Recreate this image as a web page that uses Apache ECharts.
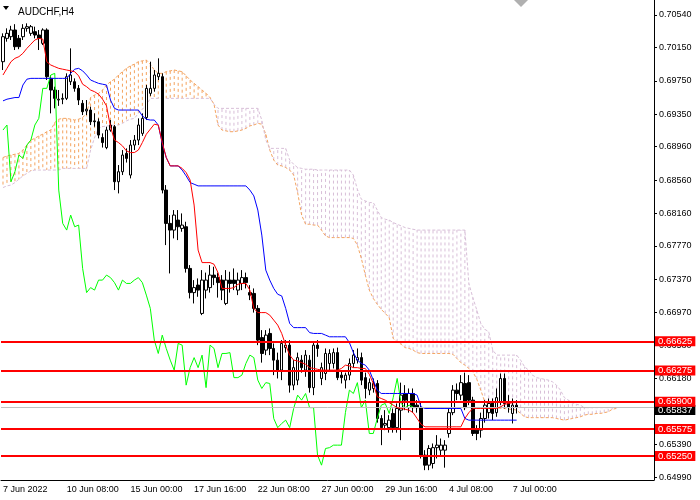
<!DOCTYPE html>
<html>
<head>
<meta charset="utf-8">
<script src="https://cdn.jsdelivr.net/npm/echarts@6/dist/echarts.min.js"></script>
<style>
html, body { margin: 0; padding: 0; background: #fff; }
#main { width: 700px; height: 500px; }
</style>
</head>
<body>
<div id="main"></div>
<script>
// AUDCHF H4 with Ichimoku
var symbolName = 'AUDCHF,H4';
var timeLabels = ['7 Jun 2022', '10 Jun 08:00', '15 Jun 00:00', '17 Jun 16:00', '22 Jun 08:00',
  '27 Jun 00:00', '29 Jun 16:00', '4 Jul 08:00', '7 Jul 00:00'];
var priceTicks = [0.64990, 0.65390, 0.65780, 0.66180, 0.66580, 0.66970, 0.67370, 0.67770,
  0.68160, 0.68560, 0.68960, 0.69350, 0.69750, 0.70150, 0.70540];
var levels = [0.66625, 0.66275, 0.65900, 0.65575, 0.65250];
var lastPrice = 0.65837;

var open = [0.6998,0.7026,0.7028,0.7036,0.7026,0.7028,0.7038,0.7032,0.7034,0.7030,
  0.7020,0.7036,0.6978,0.6964,0.6952,0.6953,0.6954,0.6974,0.6974,0.6966,
  0.6948,0.6939,0.6940,0.6927,0.6926,0.6907,0.6895,0.6916,0.6920,0.6854,
  0.6866,0.6888,0.6862,0.6898,0.6904,0.6912,0.6931,0.6960,0.6966,0.6980,
  0.6980,0.6844,0.6804,0.6796,0.6808,0.6798,0.6800,0.6750,0.6721,0.6730,
  0.6696,0.6724,0.6727,0.6742,0.6739,0.6736,0.6708,0.6736,0.6736,0.6724,
  0.6732,0.6739,0.6721,0.6720,0.6702,0.6667,0.6652,0.6672,0.6654,0.6640,
  0.6628,0.6655,0.6658,0.6610,0.6616,0.6640,0.6628,0.6640,0.6607,0.6658,
  0.6618,0.6624,0.6636,0.6636,0.6649,0.6622,0.6616,0.6622,0.6636,0.6640,
  0.6643,0.6619,0.6604,0.6606,0.6612,0.6570,0.6562,0.6559,0.6576,0.6559,
  0.6580,0.6600,0.6583,0.6600,0.6586,0.6583,0.6526,0.6514,0.6516,0.6535,
  0.6532,0.6532,0.6552,0.6577,0.6604,0.6598,0.6612,0.6613,0.6592,0.6556,
  0.6556,0.6570,0.6577,0.6590,0.6577,0.6590,0.6618,0.6590,0.6576,0.6586];
var close = [0.7028,0.7032,0.7036,0.7016,0.7016,0.7038,0.7040,0.7040,0.7030,0.7026,
  0.7036,0.6980,0.6964,0.6954,0.6953,0.6954,0.6980,0.6982,0.6966,0.6952,
  0.6938,0.6941,0.6926,0.6926,0.6910,0.6901,0.6916,0.6922,0.6854,0.6866,
  0.6886,0.6882,0.6898,0.6904,0.6922,0.6930,0.6966,0.6966,0.6982,0.6984,
  0.6844,0.6804,0.6796,0.6814,0.6800,0.6802,0.6750,0.6721,0.6727,0.6724,
  0.6736,0.6736,0.6742,0.6739,0.6733,0.6724,0.6736,0.6732,0.6732,0.6736,
  0.6739,0.6733,0.6718,0.6702,0.6664,0.6648,0.6670,0.6654,0.6640,0.6628,
  0.6660,0.6658,0.6610,0.6631,0.6643,0.6631,0.6646,0.6607,0.6658,0.6654,
  0.6631,0.6648,0.6648,0.6649,0.6619,0.6619,0.6622,0.6636,0.6646,0.6643,
  0.6616,0.6606,0.6613,0.6612,0.6570,0.6559,0.6564,0.6568,0.6559,0.6582,
  0.6598,0.6592,0.6600,0.6583,0.6583,0.6526,0.6514,0.6534,0.6535,0.6538,
  0.6538,0.6538,0.6577,0.6604,0.6600,0.6613,0.6583,0.6592,0.6552,0.6552,
  0.6570,0.6586,0.6588,0.6576,0.6595,0.6618,0.6588,0.6583,0.6586,0.65837];
var high = [0.7032,0.7038,0.7041,0.7043,0.7030,0.7043,0.7044,0.7042,0.7040,0.7036,
  0.7038,0.7038,0.6982,0.6968,0.6964,0.6960,0.6984,0.7014,0.6978,0.6970,
  0.6952,0.6952,0.6944,0.6936,0.6930,0.6912,0.6920,0.6928,0.6922,0.6874,
  0.6892,0.6894,0.6904,0.6910,0.6930,0.6936,0.6970,0.6998,0.6988,0.7002,
  0.6984,0.6850,0.6814,0.6820,0.6820,0.6816,0.6806,0.6754,0.6736,0.6738,
  0.6748,0.6745,0.6754,0.6752,0.6745,0.6742,0.6748,0.6746,0.6750,0.6745,
  0.6748,0.6745,0.6730,0.6726,0.6706,0.6676,0.6676,0.6678,0.6660,0.6649,
  0.6664,0.6664,0.6664,0.6640,0.6649,0.6646,0.6652,0.6646,0.6661,0.6664,
  0.6637,0.6654,0.6653,0.6654,0.6655,0.6628,0.6625,0.6642,0.6652,0.6654,
  0.6649,0.6625,0.6618,0.6618,0.6616,0.6574,0.6580,0.6574,0.6582,0.6588,
  0.6613,0.6610,0.6606,0.6606,0.6592,0.6590,0.6532,0.6538,0.6540,0.6550,
  0.6546,0.6544,0.6582,0.6610,0.6612,0.6622,0.6625,0.6622,0.6596,0.6562,
  0.6577,0.6592,0.6594,0.6594,0.6606,0.6624,0.6624,0.6598,0.6594,0.6592];
var low = [0.6988,0.7022,0.7024,0.7012,0.7013,0.7024,0.7034,0.7029,0.7026,0.7012,
  0.7018,0.6976,0.6936,0.6942,0.6945,0.6947,0.6952,0.6970,0.6962,0.6946,
  0.6934,0.6934,0.6922,0.6920,0.6906,0.6895,0.6893,0.6914,0.6844,0.6840,
  0.6862,0.6877,0.6858,0.6892,0.6898,0.6909,0.6928,0.6957,0.6962,0.6976,
  0.6840,0.6778,0.6744,0.6786,0.6784,0.6794,0.6745,0.6714,0.6708,0.6716,
  0.6694,0.6714,0.6721,0.6730,0.6715,0.6712,0.6706,0.6721,0.6724,0.6718,
  0.6724,0.6726,0.6712,0.6697,0.6658,0.6637,0.6646,0.6646,0.6622,0.6618,
  0.6616,0.6649,0.6601,0.6604,0.6610,0.6625,0.6620,0.6601,0.6598,0.6644,
  0.6610,0.6616,0.6628,0.6630,0.6616,0.6612,0.6606,0.6616,0.6631,0.6636,
  0.6610,0.6594,0.6598,0.6601,0.6565,0.6538,0.6556,0.6553,0.6553,0.6553,
  0.6544,0.6580,0.6577,0.6577,0.6577,0.6522,0.6508,0.6508,0.6510,0.6522,
  0.6526,0.6511,0.6547,0.6574,0.6592,0.6592,0.6580,0.6586,0.6549,0.6544,
  0.6547,0.6565,0.6570,0.6568,0.6572,0.6586,0.6582,0.6577,0.6564,0.6576];

var tenkan = [0.6982,0.6990,0.6998,0.7002,0.7004,0.7008,0.7014,0.7019,0.7024,0.7026,
  0.7025,0.6998,0.6994,0.6992,0.6990,0.6989,0.6988,0.6987,0.6986,0.6981,
  0.6971,0.6968,0.6964,0.6962,0.6959,0.6953,0.6945,0.6920,0.6904,0.6901,
  0.6897,0.6891,0.6889,0.6889,0.6892,0.6901,0.6911,0.6917,0.6923,0.6922,
  0.6901,0.6883,0.6873,0.6873,0.6873,0.6870,0.6865,0.6856,0.6826,0.6772,
  0.6757,0.6757,0.6757,0.6755,0.6745,0.6726,0.6726,0.6726,0.6727,0.6731,
  0.6732,0.6732,0.6724,0.6702,0.6697,0.6697,0.6697,0.6694,0.6688,0.6682,
  0.6672,0.6658,0.6646,0.6640,0.6639,0.6637,0.6635,0.6631,0.6630,0.6629,
  0.6628,0.6628,0.6628,0.6628,0.6628,0.6630,0.6634,0.6633,0.6631,0.6631,
  0.6630,0.6630,0.6623,0.6612,0.6596,0.6594,0.6592,0.6589,0.6586,0.6583,
  0.6582,0.6581,0.6580,0.6577,0.6570,0.6563,0.6560,0.6560,0.6560,0.6560,
  0.6560,0.6560,0.6560,0.6560,0.6560,0.6560,0.6570,0.6577,0.6582,0.6582,
  0.6582,0.6582,0.6582,0.6582,0.6582,0.6584,0.6587,0.6588,0.6589,0.6589];
var kijun = [0.6951,0.6953,0.6954,0.6955,0.6955,0.6970,0.6977,0.6978,0.6978,0.6978,
  0.6978,0.6978,0.6978,0.6978,0.6978,0.6978,0.6978,0.6984,0.6989,0.6990,
  0.6987,0.6982,0.6976,0.6974,0.6972,0.6971,0.6970,0.6952,0.6942,0.6940,
  0.6940,0.6940,0.6940,0.6940,0.6940,0.6933,0.6929,0.6928,0.6928,0.6922,
  0.6900,0.6883,0.6873,0.6873,0.6873,0.6868,0.6861,0.6853,0.6851,0.6849,
  0.6849,0.6849,0.6849,0.6849,0.6849,0.6849,0.6849,0.6849,0.6849,0.6849,
  0.6849,0.6849,0.6844,0.6837,0.6820,0.6790,0.6748,0.6736,0.6726,0.6719,
  0.6717,0.6702,0.6684,0.6679,0.6679,0.6679,0.6679,0.6673,0.6672,0.6672,
  0.6672,0.6670,0.6668,0.6668,0.6668,0.6668,0.6668,0.6661,0.6649,0.6640,
  0.6636,0.6634,0.6628,0.6616,0.6604,0.6600,0.6600,0.6600,0.6600,0.6600,
  0.6600,0.6600,0.6600,0.6600,0.6598,0.6584,0.6582,0.6582,0.6582,0.6582,
  0.6582,0.6582,0.6582,0.6582,0.6582,0.6582,0.6570,0.6568,0.6568,0.6568,
  0.6568,0.6568,0.6568,0.6568,0.6568,0.6568,0.6568,0.6568,0.6568,0.6568];
// senkou spans, already shifted 26 bars forward (155 values)
var spanA = [0.6883,0.6885,0.6886,0.6887,0.6888,0.6892,0.6898,0.6904,0.6906,0.6909,
  0.6911,0.6914,0.6916,0.6925,0.6929,0.6930,0.6930,0.6929,0.6928,0.6929,
  0.6931,0.6936,0.6955,0.6958,0.6960,0.6964,0.6970,0.6974,0.6977,0.6982,
  0.6986,0.6990,0.6993,0.6995,0.6998,0.6999,0.7000,0.6995,0.6988,0.6984,
  0.6984,0.6986,0.6987,0.6988,0.6987,0.6986,0.6981,0.6976,0.6972,0.6968,
  0.6964,0.6960,0.6955,0.6947,0.6922,0.6916,0.6915,0.6914,0.6914,0.6915,
  0.6916,0.6918,0.6921,0.6922,0.6924,0.6923,0.6911,0.6892,0.6880,0.6874,
  0.6873,0.6871,0.6868,0.6862,0.6841,0.6814,0.6803,0.6803,0.6802,0.6802,
  0.6796,0.6789,0.6787,0.6787,0.6787,0.6787,0.6787,0.6787,0.6786,0.6778,
  0.6762,0.6742,0.6724,0.6714,0.6707,0.6701,0.6696,0.6691,0.6666,0.6662,
  0.6659,0.6655,0.6654,0.6652,0.6649,0.6648,0.6648,0.6648,0.6648,0.6648,
  0.6648,0.6648,0.6648,0.6647,0.6642,0.6637,0.6634,0.6630,0.6626,0.6617,
  0.6604,0.6590,0.6587,0.6584,0.6583,0.6582,0.6582,0.6581,0.6581,0.6580,
  0.6576,0.6572,0.6571,0.6571,0.6571,0.6571,0.6571,0.6571,0.6571,0.6570,
  0.6569,0.6568,0.6569,0.6570,0.6571,0.6572,0.6574,0.6575,0.6575,0.6576,
  0.6576,0.6577,0.6578,0.6581,0.6582];
var spanB = [0.6847,0.6849,0.6850,0.6853,0.6857,0.6861,0.6864,0.6867,0.6868,0.6868,
  0.6868,0.6868,0.6868,0.6868,0.6868,0.6870,0.6870,0.6870,0.6870,0.6870,
  0.6870,0.6870,0.6892,0.6907,0.6918,0.6920,0.6921,0.6921,0.6922,0.6922,
  0.6924,0.6927,0.6929,0.6930,0.6936,0.6941,0.6946,0.6954,0.6954,0.6954,
  0.6954,0.6954,0.6954,0.6954,0.6954,0.6954,0.6954,0.6954,0.6954,0.6954,
  0.6954,0.6954,0.6954,0.6947,0.6942,0.6942,0.6942,0.6942,0.6942,0.6942,
  0.6942,0.6942,0.6942,0.6942,0.6942,0.6928,0.6904,0.6894,0.6894,0.6894,
  0.6894,0.6894,0.6880,0.6875,0.6871,0.6870,0.6869,0.6869,0.6869,0.6868,
  0.6868,0.6868,0.6868,0.6868,0.6868,0.6868,0.6868,0.6868,0.6862,0.6845,
  0.6833,0.6831,0.6829,0.6829,0.6820,0.6811,0.6809,0.6808,0.6805,0.6803,
  0.6801,0.6799,0.6798,0.6797,0.6796,0.6796,0.6796,0.6796,0.6796,0.6796,
  0.6796,0.6796,0.6796,0.6796,0.6796,0.6796,0.6796,0.6732,0.6715,0.6700,
  0.6684,0.6677,0.6674,0.6652,0.6646,0.6646,0.6646,0.6646,0.6646,0.6646,
  0.6640,0.6632,0.6628,0.6622,0.6619,0.6618,0.6617,0.6616,0.6614,0.6610,
  0.6604,0.6595,0.6592,0.6589,0.6587,0.6586,0.6583,0.6583,0.6583,0.6583,
  0.6583,0.6583,0.6583,0.6583,0.6583];

var shift = 26;
var slots = 164;
var cats = [];
for (var i = 0; i < slots; i++) cats.push(i);

var candles = close.map(function (c, i) { return [open[i], c, low[i], high[i]]; });
var chikou = close.slice(shift);
var cloud = spanA.map(function (a, i) { return [i, a, spanB[i]]; });

var txt = { color: '#000', fontSize: 9, fontFamily: 'Liberation Sans' };
var fmt5 = function (v) { return Number(v).toFixed(5); };

// bid line first, so the red level boxes sit on top of it
var levelMarks = [{
  yAxis: lastPrice,
  lineStyle: { color: '#c0c0c0', width: 1, type: 'solid' },
  label: { backgroundColor: '#000000', offset: [0, 3] }
}];
levels.forEach(function (v) {
  levelMarks.push({
    yAxis: v,
    lineStyle: { color: '#ff0000', width: 2, type: 'solid' },
    label: { backgroundColor: '#ff0000' }
  });
});

var myChart = echarts.init(document.getElementById('main'));
var option = {
  animation: false,
  backgroundColor: '#fff',
  title: {
    text: symbolName, left: 13, top: 2,
    textStyle: { color: '#000', fontSize: 10, fontWeight: 'normal', fontFamily: 'Liberation Sans' }
  },
  graphic: [
    { type: 'polygon', shape: { points: [[3, 6], [9, 6], [6, 10]] }, style: { fill: '#000' } },
    { type: 'polygon', shape: { points: [[514, 0], [528, 0], [521, 7]] }, style: { fill: '#b0b0b0' } }
  ],
  grid: { left: -2, right: 46, top: 0, bottom: 20 },
  xAxis: {
    type: 'category', data: cats, boundaryGap: true,
    axisLine: { lineStyle: { color: '#000', width: 1 } },
    axisTick: { alignWithLabel: true, interval: 15, length: 4, lineStyle: { color: '#000' } },
    axisLabel: Object.assign({
      interval: 15, align: 'left', margin: 5,
      formatter: function (v, idx) { return idx % 16 === 0 ? (timeLabels[idx / 16] || '') : ''; }
    }, txt),
    splitLine: { show: false }
  },
  yAxis: {
    type: 'value', position: 'right', min: 0.64962, max: 0.70720,
    axisLine: { show: true, lineStyle: { color: '#000', width: 1 } },
    axisTick: { show: true, customValues: priceTicks, length: 3, lineStyle: { color: '#000' } },
    axisLabel: Object.assign({ customValues: priceTicks, formatter: fmt5, margin: 5 }, txt),
    splitLine: { show: false }
  },
  series: [
    {
      name: 'cloud', type: 'custom', silent: true, z: 1,
      data: cloud, encode: { x: 0, y: [1, 2] },
      renderItem: function (params, api) {
        var a = api.value(1), b = api.value(2);
        var p1 = api.coord([api.value(0), a]);
        var p2 = api.coord([api.value(0), b]);
        return {
          type: 'line',
          shape: { x1: p1[0], y1: p1[1], x2: p2[0], y2: p2[1] },
          style: { stroke: a >= b ? '#f4a460' : '#d8bfd8', lineWidth: 1, lineDash: [3, 3] }
        };
      }
    },
    {
      name: 'Senkou A', type: 'line', data: spanA, symbol: 'none', silent: true, z: 2,
      lineStyle: { color: '#f4a460', width: 1, type: [3, 2] }
    },
    {
      name: 'Senkou B', type: 'line', data: spanB, symbol: 'none', silent: true, z: 2,
      lineStyle: { color: '#d8bfd8', width: 1, type: [3, 2] }
    },
    {
      name: symbolName, type: 'candlestick', data: candles, barWidth: 3, z: 3,
      itemStyle: { color: '#ffffff', color0: '#000000', borderColor: '#000000', borderColor0: '#000000', borderWidth: 1 }
    },
    {
      name: 'Chikou', type: 'line', data: chikou, symbol: 'none', silent: true, z: 4,
      lineStyle: { color: '#00ff00', width: 1 }
    },
    {
      name: 'Kijun', type: 'line', data: kijun, symbol: 'none', silent: true, z: 4,
      lineStyle: { color: '#0000ff', width: 1 }
    },
    {
      name: 'Tenkan', type: 'line', data: tenkan, symbol: 'none', silent: true, z: 5,
      lineStyle: { color: '#ff0000', width: 1 },
      markLine: {
        silent: true, symbol: ['none', 'none'], animation: false, precision: 5,
        label: {
          show: true, position: 'end', distance: 1, color: '#fff', fontSize: 9.5,
          lineHeight: 10, fontFamily: 'Liberation Sans', padding: [0, 3, 0, 3],
          formatter: function (p) { return fmt5(p.value); }
        },
        data: levelMarks
      }
    }
  ]
};
myChart.setOption(option);
</script>
</body>
</html>
